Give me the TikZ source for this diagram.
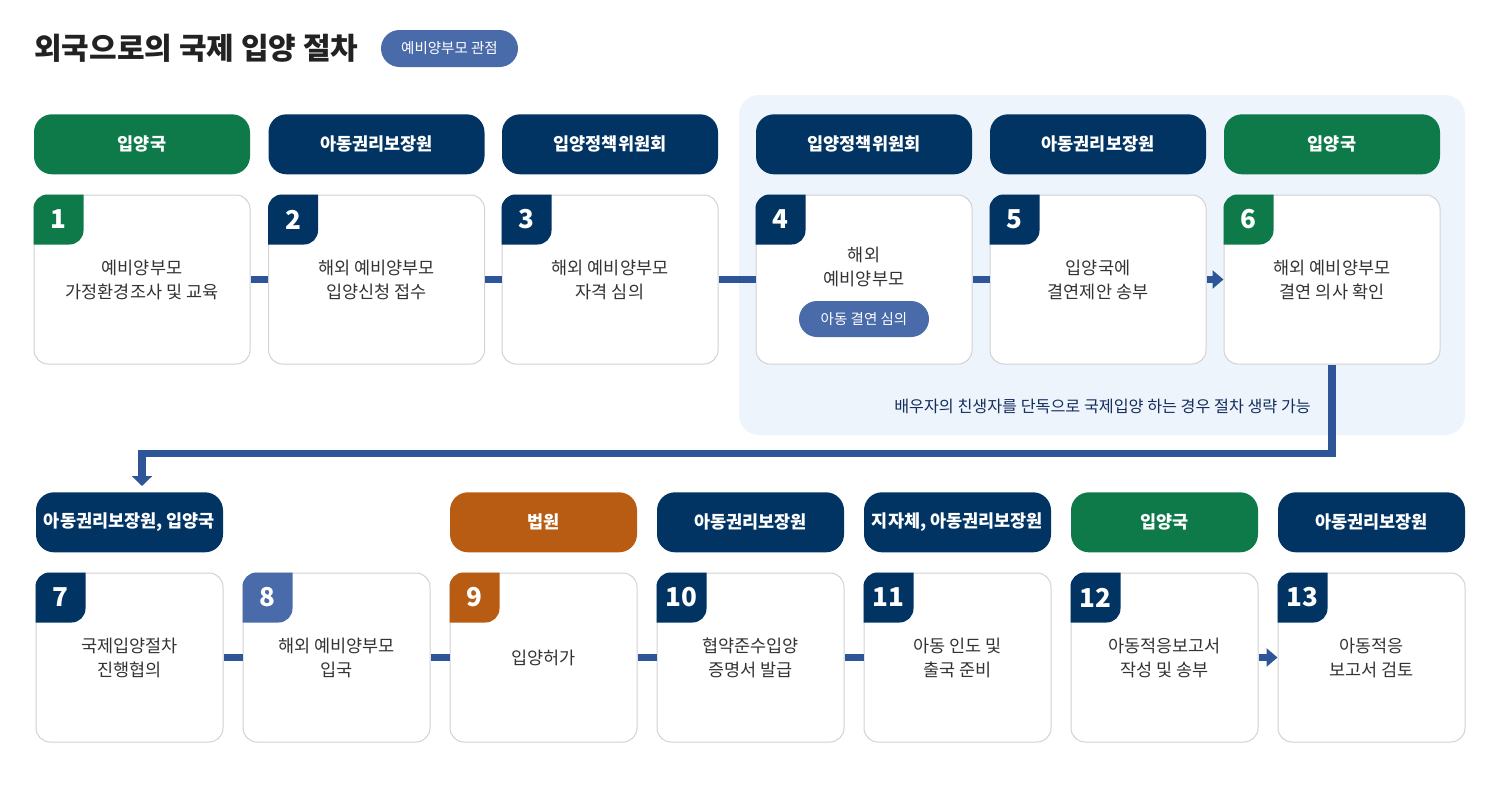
\documentclass[tikz,border=0pt]{standalone}
\usepackage{fontspec}
\setmainfont{Noto Sans CJK KR}
\usepackage{tikz}
\usepackage{xcolor}
\usetikzlibrary{positioning}
\usetikzlibrary{calc}
\usetikzlibrary{arrows.meta}
\definecolor{navyColor}{RGB}{1,52,99}
\definecolor{greenColor}{RGB}{14,122,74}
\definecolor{courtColor}{RGB}{184,92,20}
\definecolor{softBlue}{RGB}{74,107,170}
\definecolor{barColor}{RGB}{46,85,151}
\definecolor{panelColor}{RGB}{237,244,251}
\definecolor{cardLine}{RGB}{210,210,210}
\definecolor{textColor}{RGB}{51,51,51}
\definecolor{titleColor}{RGB}{34,34,34}
\definecolor{noteColor}{RGB}{20,45,95}

\begin{document}
\begin{tikzpicture}[x=1pt,y=-1pt,
  head/.style={rounded corners=18pt, minimum height=60pt, inner sep=0pt, text=white, font=\bfseries\fontsize{17.5}{20}\selectfont},
  card/.style={draw=cardLine, fill=white, line width=1pt, rounded corners=14pt, minimum height=169pt, inner sep=0pt, align=center, text=textColor, font=\fontsize{17.5}{24}\selectfont},
  rowA/.style={minimum width=216pt},
  rowB/.style={minimum width=187pt},
  tabnum/.style={text=white, inner sep=0pt, font=\bfseries\fontsize{26}{26}\selectfont},
  pill/.style={fill=softBlue, rounded corners=18pt, minimum width=130pt, minimum height=36pt, inner sep=0pt, text=white, font=\fontsize{14.5}{16}\selectfont},
  bar/.style={draw=barColor, line width=7.5pt},
]
\newcommand\NumTab[3]{%
  \begin{scope}
    \clip[rounded corners=14pt] (#1.north west) rectangle (#1.south east);
    \fill[#2, rounded corners=14pt] ($(#1.north west)+(-20,-20)$) rectangle ($(#1.north west)+(50,50)$);
  \end{scope}
  \node[tabnum] (#1no) at ($(#1.north west)+(25,25)$) {#3};
}
\useasboundingbox (0,0) rectangle (1500,790);

\node[anchor=west, inner sep=0pt, text=titleColor, font=\bfseries\fontsize{30}{32}\selectfont] (title) at (34,48) {외국으로의 국제 입양 절차};
\node[fill=softBlue, rounded corners=18.5pt, minimum width=137pt, minimum height=37pt, inner sep=0pt, text=white, font=\fontsize{14.5}{16}\selectfont] (view) at (449.5,48.5) {예비양부모 관점};

\fill [panelColor, rounded corners=20pt] (739,95) rectangle (1465,435);

% first row
\node[card, rowA] (s1) at (142,279.5) {예비양부모\\가정환경조사 및 교육};
\node[card, rowA] (s2) at (376.5,279.5) {해외 예비양부모\\입양신청 접수};
\node[card, rowA] (s3) at (610,279.5) {해외 예비양부모\\자격 심의};
\node[card, rowA] (s4) at (864,279.5) {};
\node[card, rowA] (s5) at (1098,279.5) {입양국에\\결연제안 송부};
\node[card, rowA] (s6) at (1332,279.5) {해외 예비양부모\\결연 의사 확인};
\node[align=center, inner sep=0pt, text=textColor, font=\fontsize{17.5}{24}\selectfont] (s4txt) at (864,267) {해외\\예비양부모};
\node[pill] (s4pill) at (864,319) {아동 결연 심의};

\node[head, rowA, fill=greenColor, above=20pt of s1] (h1) {입양국};
\node[head, rowA, fill=navyColor, above=20pt of s2] (h2) {아동권리보장원};
\node[head, rowA, fill=navyColor, above=20pt of s3] (h3) {입양정책위원회};
\node[head, rowA, fill=navyColor, above=20pt of s4] (h4) {입양정책위원회};
\node[head, rowA, fill=navyColor, above=20pt of s5] (h5) {아동권리보장원};
\node[head, rowA, fill=greenColor, above=20pt of s6] (h6) {입양국};

\node[anchor=east, inner sep=0pt, text=noteColor, font=\fontsize{16.2}{18}\selectfont] (skip) at (1311,406) {배우자의 친생자를 단독으로 국제입양 하는 경우 절차 생략 가능};

% second row
\node[card, rowB] (s7) at (129.5,657.5) {국제입양절차\\진행협의};
\node[card, rowB] (s8) at (336.5,657.5) {해외 예비양부모\\입국};
\node[card, rowB] (s9) at (543.5,657.5) {입양허가};
\node[card, rowB] (s10) at (750.5,657.5) {협약준수입양\\증명서 발급};
\node[card, rowB] (s11) at (957.5,657.5) {아동 인도 및\\출국 준비};
\node[card, rowB] (s12) at (1164.5,657.5) {아동적응보고서\\작성 및 송부};
\node[card, rowB] (s13) at (1371.5,657.5) {아동적응\\보고서 검토};

\node[head, rowB, fill=navyColor, above=20pt of s7] (h7) {아동권리보장원, 입양국};
\node[head, rowB, fill=courtColor, above=20pt of s9] (h9) {법원};
\node[head, rowB, fill=navyColor, above=20pt of s10] (h10) {아동권리보장원};
\node[head, rowB, fill=navyColor, above=20pt of s11] (h11) {지자체, 아동권리보장원};
\node[head, rowB, fill=greenColor, above=20pt of s12] (h12) {입양국};
\node[head, rowB, fill=navyColor, above=20pt of s13] (h13) {아동권리보장원};

\NumTab{s1}{greenColor}{1}
\NumTab{s2}{navyColor}{2}
\NumTab{s3}{navyColor}{3}
\NumTab{s4}{navyColor}{4}
\NumTab{s5}{navyColor}{5}
\NumTab{s6}{greenColor}{6}
\NumTab{s7}{navyColor}{7}
\NumTab{s8}{softBlue}{8}
\NumTab{s9}{courtColor}{9}
\NumTab{s10}{navyColor}{10}
\NumTab{s11}{navyColor}{11}
\NumTab{s12}{navyColor}{12}
\NumTab{s13}{navyColor}{13}

% connectors
\draw[bar] (s1) -- (s2);
\draw[bar] (s2) -- (s3);
\draw[bar] (s3) -- (s4);
\draw[bar] (s4) -- (s5);
\draw[bar, -{Triangle[length=11pt,width=18pt]}] (s5) -- (s6);
\coordinate (bend) at (142,453.5);
\coordinate (drop) at (142,486);
\draw[bar, -{Triangle[length=10pt,width=20pt]}] (s6.south) |- (bend) -- (drop);
\draw[bar] (s7) -- (s8);
\draw[bar] (s8) -- (s9);
\draw[bar] (s9) -- (s10);
\draw[bar] (s10) -- (s11);
\draw[bar, -{Triangle[length=11pt,width=18pt]}] (s12) -- (s13);
\end{tikzpicture}
\end{document}
